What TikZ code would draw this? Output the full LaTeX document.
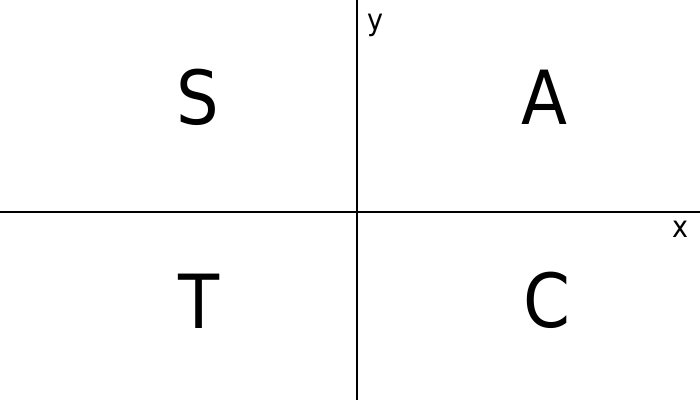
\documentclass[tikz,border=0pt]{standalone}
\usepackage{fontspec}
\setmainfont{DejaVu Sans Condensed}
\begin{document}
\begin{tikzpicture}[x=0.75pt,y=-0.75pt,
  big/.style={inner sep=0pt,anchor=base,font=\fontsize{56}{60}\selectfont},
  small/.style={inner sep=0pt,anchor=base,font=\fontsize{22.5}{26}\selectfont},
  axis/.style={line width=1.5pt*0.75}]
\useasboundingbox (0,0) rectangle (700,400);
\coordinate (top) at (357,0);
\coordinate (bot) at (357,400);
\coordinate (left) at (0,212);
\coordinate (right) at (700,212);
\draw[axis] (top) -- (bot);
\draw[axis] (left) -- (right);
\node[big] (S) at (198,124) {S};
\node[big] (A) at (544,124) {A};
\node[big] (T) at (199,328) {T};
\node[big] (C) at (547,327) {C};
\node[small] (ylab) at (375,30) {y};
\node[small] (xlab) at (680,237) {x};
\end{tikzpicture}
\end{document}
